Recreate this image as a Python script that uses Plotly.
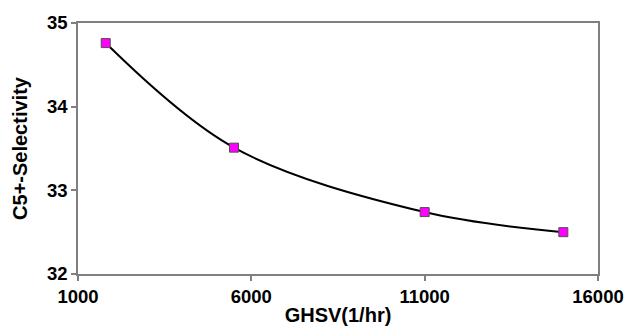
import plotly.graph_objects as go

ghsv = [1800, 5500, 11000, 15000]
selectivity = [34.76, 33.51, 32.74, 32.50]
x_ticks = [1000, 6000, 11000, 16000]
y_ticks = [32, 33, 34, 35]

fig = go.Figure()
fig.add_trace(go.Scatter(
    x=ghsv, y=selectivity, mode="lines+markers",
    line=dict(color="black", width=2, shape="spline", smoothing=1.0),
    marker=dict(symbol="square", size=9, color="#FF00FF",
                line=dict(color="#505050", width=1)),
    showlegend=False,
))

font = "Liberation Sans, Arial, sans-serif"
axis_common = dict(
    showgrid=False, zeroline=False, showline=True, linecolor="#808080",
    linewidth=1.5, mirror=True, ticks="outside", tickcolor="#808080",
    ticklen=5, tickwidth=1.5,
    tickfont=dict(family=font, size=18.5, color="black", weight="bold"),
)
fig.update_xaxes(range=[1000, 16000], tickvals=x_ticks,
                 ticktext=[str(v) for v in x_ticks],
                 title=dict(text="GHSV(1/hr)", standoff=2,
                            font=dict(family=font, size=20, color="black", weight="bold")),
                 **axis_common)
fig.update_yaxes(range=[32, 35], tickvals=y_ticks,
                 ticktext=[str(v) for v in y_ticks],
                 title=dict(text="C5+-Selectivity", standoff=14,
                            font=dict(family=font, size=20, color="black", weight="bold")),
                 **axis_common)
fig.update_layout(
    width=636, height=335,
    margin=dict(l=78, r=29, t=23, b=58),
    paper_bgcolor="white", plot_bgcolor="white",
)
fig.write_html("out.html")
